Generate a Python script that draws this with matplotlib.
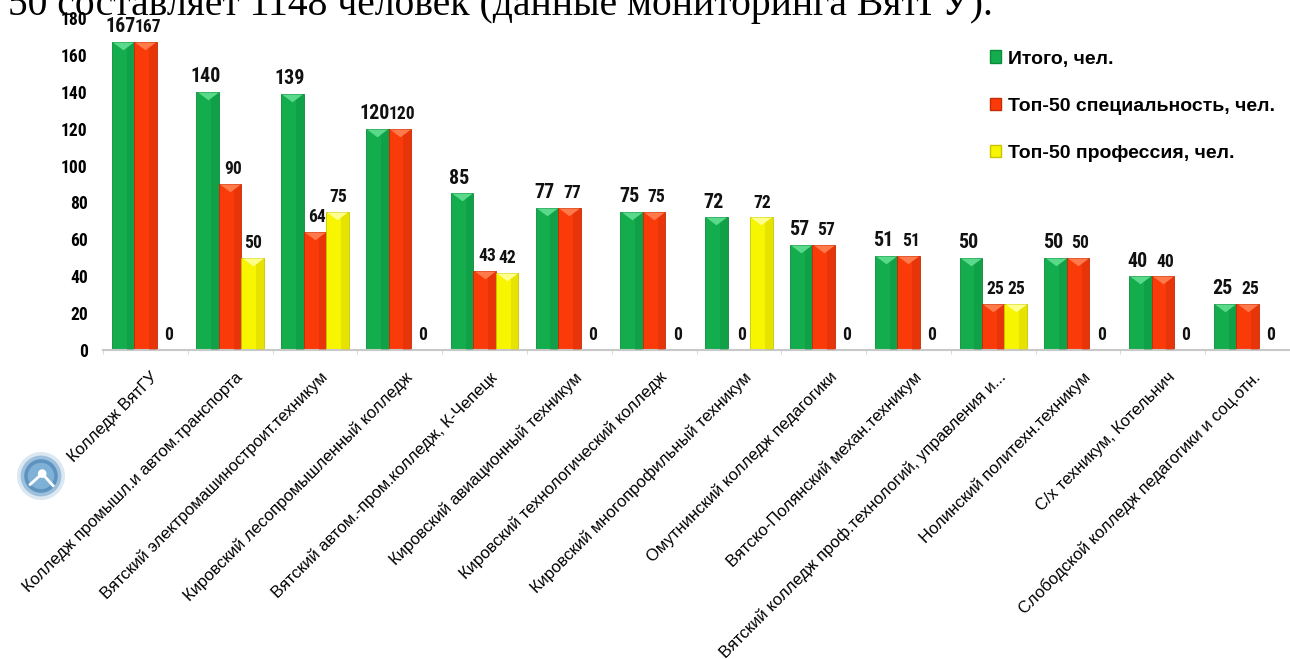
import numpy as np
import matplotlib
matplotlib.use("Agg")
import matplotlib.pyplot as plt
from matplotlib import font_manager
from matplotlib.font_manager import FontProperties
from matplotlib.path import Path
from matplotlib.patches import Circle, Patch
from matplotlib.transforms import ScaledTranslation

# --- data ---
colleges = [
    "Колледж ВятГУ",
    "Колледж промышл.и автом.транспорта",
    "Вятский электромашиностроит.техникум",
    "Кировский лесопромышленный колледж",
    "Вятский автом.-пром.колледж, К-Чепецк",
    "Кировский авиационный техникум",
    "Кировский технологический колледж",
    "Кировский многопрофильный техникум",
    "Омутнинский колледж педагогики",
    "Вятско-Полянский механ.техникум",
    "Вятский колледж проф.технологий, управления и...",
    "Нолинский политехн.техникум",
    "С/х техникум, Котельнич",
    "Слободской колледж педагогики и соц.отн.",
]
total = [167, 140, 139, 120, 85, 77, 75, 72, 57, 51, 50, 50, 40, 25]
top50_spec = [167, 90, 64, 120, 43, 77, 75, 0, 57, 51, 25, 50, 40, 25]
top50_prof = [0, 50, 75, 0, 42, 0, 0, 72, 0, 0, 25, 0, 0, 0]
series_names = ["Итого, чел.", "Топ-50 специальность, чел.", "Топ-50 профессия, чел."]
y_ticks = list(range(0, 181, 20))


def find_narrow_bold():
    # an Arial Narrow lookalike if one is installed
    for want in ("Liberation Sans Narrow", "Roboto Condensed"):
        for f in font_manager.fontManager.ttflist:
            if f.name == want and f.weight in ("bold", 700, "700") and f.style == "normal":
                return f.fname
    return None


narrow_file = find_narrow_bold()


def num_font(size):
    if narrow_file:
        return FontProperties(fname=narrow_file, size=size * 1.15)
    return FontProperties(family="Liberation Sans", weight="bold", size=size)


plt.rcParams["font.family"] = ["Liberation Sans", "DejaVu Sans"]

W, H = 1290, 659
fig = plt.figure(figsize=(W / 100, H / 100), dpi=100)
ax = fig.add_axes([103 / W, 1 - 350 / H, (W - 103) / W, 332 / H])

x = np.arange(len(colleges))
w = 0.265
series = [total, top50_spec, top50_prof]
base_cols = ["#14ad4e", "#fb3a0a", "#f7f500"]
dark_cols = ["#0b8a3a", "#c42a06", "#c8c400"]
light_cols = ["#5ad98a", "#ff7a4a", "#ffff90"]
label_sizes = [12.5, 11, 11]
label_dx = [-1.8, 1.8, 0.5]

tri = Path([(-1, 0), (1, 0), (0, -0.75), (-1, 0)],
           [Path.MOVETO, Path.LINETO, Path.LINETO, Path.CLOSEPOLY])

for k, vals in enumerate(series):
    pos = x + (k - 1) * w
    ax.bar(pos, vals, w, color=base_cols[k], edgecolor=dark_cols[k], linewidth=0.6, zorder=2)
    # darker right side for the cylinder look
    ax.bar(pos + w * 0.33, vals, w * 0.34, color=dark_cols[k], alpha=0.35, linewidth=0, zorder=3)
    nz = [i for i, v in enumerate(vals) if v > 0]
    ax.plot(pos[nz], np.array(vals)[nz], linestyle="none", marker=tri, markersize=15,
            color=light_cols[k], markeredgewidth=0, zorder=4)
    for p, v in zip(pos, vals):
        ax.annotate(str(v), (p, v), xytext=(label_dx[k], 4), textcoords="offset points",
                    ha="center", va="bottom", fontproperties=num_font(label_sizes[k]),
                    color="#111111")

ax.set_xlim(-0.5, len(colleges) - 0.5)
ax.set_ylim(0, 180)
ax.set_yticks(y_ticks)
ax.set_yticklabels([str(t) for t in y_ticks])
for lab in ax.get_yticklabels():
    lab.set_fontproperties(num_font(11))
ax.tick_params(axis="y", length=0, pad=11)

ax.set_xticks(x)
ax.set_xticklabels(colleges, rotation=45, ha="right", va="top",
                   rotation_mode="anchor", fontsize=12)
ax.tick_params(axis="x", length=0, pad=14)
off = ScaledTranslation(5 / 100, 0, fig.dpi_scale_trans)
for lab in ax.get_xticklabels():
    lab.set_transform(lab.get_transform() + off)
ax.set_xticks(np.arange(len(colleges) + 1) - 0.5, minor=True)
ax.tick_params(axis="x", which="minor", length=3, color="#d0d0d0", direction="out")

for s in ["top", "right", "left"]:
    ax.spines[s].set_visible(False)
ax.spines["bottom"].set_color("#c8c8c8")
ax.spines["bottom"].set_linewidth(1.5)

handles = [Patch(facecolor=base_cols[k], edgecolor=dark_cols[k]) for k in range(3)]
fig.legend(handles, series_names, loc="upper left", bbox_to_anchor=(972 / W, 1 - 33 / H),
           frameon=False, handlelength=0.6, handleheight=0.6,
           handletextpad=0.35, labelspacing=1.55, prop={"weight": "bold", "size": 14})

# clipped line of document text above the chart
fig.text(8 / W, 1 - 15 / H, "50 составляет 1148 человек (данные мониторинга ВятГУ).",
         family="Liberation Serif", fontsize=28.5, va="baseline", ha="left", color="black")

# small round logo next to the first label
lax = fig.add_axes([17 / W, 1 - 500 / H, 48 / W, 48 / H])
lax.set_xlim(-1, 1)
lax.set_ylim(-1, 1)
lax.set_aspect("equal")
lax.axis("off")
for r, c in [(1.0, "#dbe8f2"), (0.85, "#9cc0dc"), (0.7, "#5e93c0"), (0.55, "#7fb0d6")]:
    lax.add_patch(Circle((0, 0), r, color=c, linewidth=0))
lax.add_patch(Circle((0.05, 0.1), 0.18, color="white", linewidth=0))
lax.plot([-0.45, 0.05, 0.5], [-0.35, 0.1, -0.4], color="white", lw=2)

fig.savefig("out.png", dpi=100)
